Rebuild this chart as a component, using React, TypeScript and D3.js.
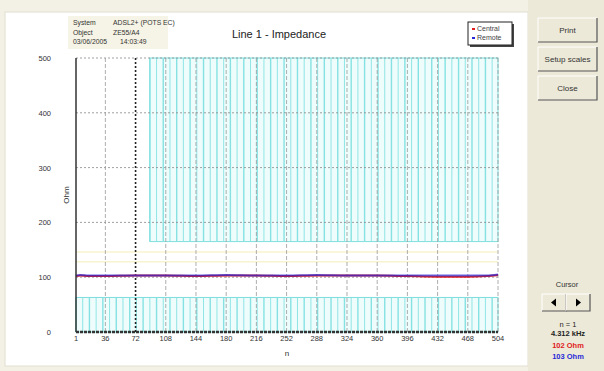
import React from "react";
import * as d3 from "d3";

const xTicks = [1, 36, 72, 108, 144, 180, 216, 252, 288, 324, 360, 396, 432, 468, 504];
const yTicks = [0, 100, 200, 300, 400, 500];
const tones = [1, 6, 16, 36, 72, 108, 144, 180, 216, 252, 288, 324, 360, 396, 432, 468, 490, 504];
const centralOhm = [102, 103, 102, 102, 103, 103, 102, 103, 103, 102, 103, 103, 103, 102, 101, 101, 102, 104];
const remoteOhm = [103, 104, 103, 103, 103, 103, 103, 104, 103, 103, 104, 103, 103, 103, 103, 103, 103, 105];
const lowerMask = { from: 1, to: 504, lo: 0, hi: 63 };
const upperMask = { from: 89, to: 504, lo: 165, hi: 500 };
const yellowLimits = [128, 146];
const headerLabels = ["System", "Object", "03/06/2005"];
const headerValues = ["ADSL2+ (POTS EC)", "ZE55/A4", "14:03:49"];
const legendNames = ["Central", "Remote"];
const seriesColors = ["#e02020", "#2828d8"];
const buttons = ["Print", "Setup scales", "Close"];

const font = "'Liberation Sans', Arial, sans-serif";

function Button({ x, y, w, h, label }: { x: number; y: number; w: number; h: number; label: string }) {
  return (
    <g>
      <rect x={x} y={y} width={w} height={h} fill="#ece9d8" />
      <path d={`M${x},${y + h} V${y} H${x + w}`} stroke="#ffffff" fill="none" />
      <path d={`M${x + w},${y} V${y + h} H${x}`} stroke="#555" fill="none" strokeWidth={1.2} />
      <text x={x + w / 2} y={y + h / 2 + 3} textAnchor="middle" fontSize={8} fontFamily={font} fill="#333">
        {label}
      </text>
    </g>
  );
}

export default function App() {
  const x = d3.scaleLinear().domain([1, 504]).range([76, 498]);
  const y = d3.scaleLinear().domain([0, 500]).range([332, 58]);
  const line = d3
    .line<number>()
    .x((_, i) => x(tones[i]))
    .y((d) => y(d))
    .curve(d3.curveMonotoneX);

  const hatch = d3.range(1, 505, 8);

  const maskRect = (m: typeof lowerMask, key: string) => {
    const lines = hatch.filter((t) => t >= m.from && t <= m.to);
    return (
      <g key={key}>
        <rect x={x(m.from)} y={y(m.hi)} width={x(m.to) - x(m.from)} height={y(m.lo) - y(m.hi)} fill="#eefcfc" stroke="#7fdede" strokeWidth={1} />
        {lines.map((t, i) => (
          <line key={i} x1={x(t)} x2={x(t)} y1={y(m.hi)} y2={y(m.lo)} stroke="#86e2e2" strokeWidth={i % 2 === 0 ? 1.4 : 0.9} />
        ))}
      </g>
    );
  };

  return (
    <div style={{ position: "fixed", left: 0, top: 0 }}>
      <svg width={604} height={371} style={{ display: "block" }}>
        <rect x={0} y={0} width={604} height={371} fill="#f3f1e6" />
        <rect x={5} y={12} width={523} height={354} fill="#ffffff" stroke="#e2dfd0" />
        <rect x={528} y={0} width={76} height={371} fill="#ece9d8" />

        {/* header */}
        <rect x={68} y={16} width={100} height={33} fill="#f6f4e6" />
        {headerLabels.map((l, i) => (
          <g key={l}>
            <text x={73} y={25 + i * 9.5} fontSize={6.8} fontFamily={font} fill="#333">{l}</text>
            <text x={i === 2 ? 120 : 113} y={25 + i * 9.5} fontSize={6.8} fontFamily={font} fill="#333">{headerValues[i]}</text>
          </g>
        ))}
        <text x={279} y={38} textAnchor="middle" fontSize={11} fontFamily={font} fill="#222">Line 1 - Impedance</text>

        {/* masks */}
        {maskRect(lowerMask, "low")}
        {maskRect(upperMask, "up")}

        {yellowLimits.map((v) => (
          <line key={v} x1={x(1)} x2={x(504)} y1={y(v)} y2={y(v)} stroke="#f4efb8" strokeWidth={1} />
        ))}

        {/* grid */}
        {yTicks.filter((t) => t > 0).map((t) => (
          <line key={t} x1={x(1)} x2={x(504)} y1={y(t)} y2={y(t)} stroke="#888" strokeWidth={0.8} strokeDasharray="2,2" />
        ))}
        {xTicks.filter((t) => t > 1).map((t) => (
          <line key={t} x1={x(t)} x2={x(t)} y1={y(500)} y2={y(0)} stroke={t === 72 ? "#222" : "#999"} strokeWidth={t === 72 ? 1.6 : 0.8} strokeDasharray={t === 72 ? "2,2" : "4,2"} />
        ))}

        {/* series */}
        <path d={line(centralOhm) || ""} fill="none" stroke={seriesColors[0]} strokeWidth={2} />
        <path d={line(remoteOhm) || ""} fill="none" stroke={seriesColors[1]} strokeWidth={2} strokeOpacity={0.7} />

        {/* axes */}
        <line x1={x(1)} x2={x(1)} y1={y(500)} y2={y(0)} stroke="#333" strokeWidth={1.5} />
        <line x1={x(1)} x2={x(504)} y1={y(0)} y2={y(0)} stroke="#333" strokeWidth={2.5} strokeDasharray="3,1" />
        {yTicks.map((t) => (
          <text key={t} x={51} y={y(t) + 3} textAnchor="end" fontSize={7.5} fontFamily={font} fill="#333">{t}</text>
        ))}
        {xTicks.map((t) => (
          <text key={t} x={x(t)} y={341} textAnchor="middle" fontSize={7.5} fontFamily={font} fill="#333">{t}</text>
        ))}
        <text x={287} y={356} textAnchor="middle" fontSize={8} fontFamily={font} fill="#333">n</text>
        <text transform="translate(69,195) rotate(-90)" textAnchor="middle" fontSize={8} fontFamily={font} fill="#333">Ohm</text>

        {/* legend */}
        <rect x={470} y={24} width={44} height={23} fill="#444" />
        <rect x={468} y={22} width={44} height={23} fill="#fff" stroke="#222" />
        {legendNames.map((n, i) => (
          <g key={n}>
            <rect x={472} y={28 + i * 9} width={3} height={2} fill={seriesColors[i]} />
            <text x={477} y={31 + i * 9} fontSize={7} fontFamily={font} fill="#444">{n}</text>
          </g>
        ))}

        {/* buttons */}
        {buttons.map((b, i) => (
          <Button key={b} x={538} y={18 + i * 29} w={59} h={24} label={b} />
        ))}

        {/* cursor */}
        <text x={567} y={287} textAnchor="middle" fontSize={7.5} fontFamily={font} fill="#333">Cursor</text>
        <Button x={542} y={294} w={24} h={17} label="" />
        <Button x={566} y={294} w={24} h={17} label="" />
        <path d="M551,302.5 L556,298.5 L556,306.5 Z" fill="#000" />
        <path d="M581,302.5 L576,298.5 L576,306.5 Z" fill="#000" />
        <text x={568} y={327} textAnchor="middle" fontSize={7.5} fontFamily={font} fill="#222">n = 1</text>
        <text x={568} y={336} textAnchor="middle" fontSize={7.5} fontFamily={font} fontWeight="bold" fill="#222">4.312 kHz</text>
        <text x={568} y={348} textAnchor="middle" fontSize={7.5} fontFamily={font} fontWeight="bold" fill={seriesColors[0]}>{`${centralOhm[0]} Ohm`}</text>
        <text x={568} y={359} textAnchor="middle" fontSize={7.5} fontFamily={font} fontWeight="bold" fill={seriesColors[1]}>{`${remoteOhm[0]} Ohm`}</text>
      </svg>
    </div>
  );
}
